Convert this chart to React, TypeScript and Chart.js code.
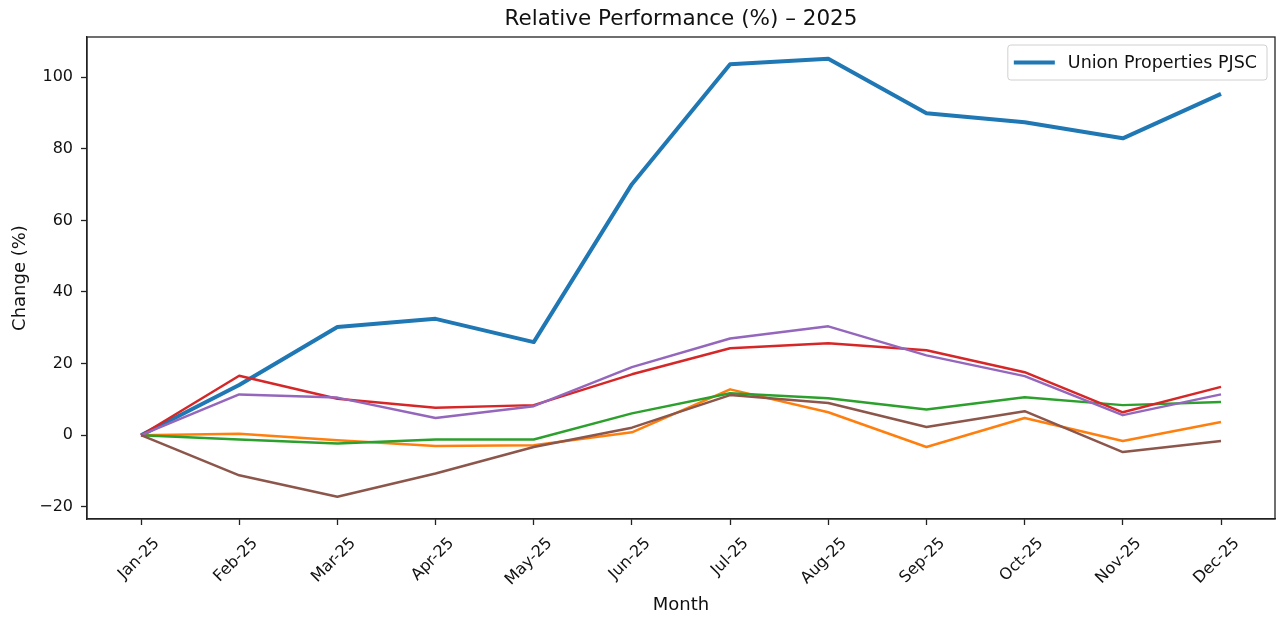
import React, { useEffect, useRef } from "react";
import { Chart, registerables } from "chart.js";

Chart.register(...registerables);

const months = ["Jan-25", "Feb-25", "Mar-25", "Apr-25", "May-25", "Jun-25", "Jul-25", "Aug-25", "Sep-25", "Oct-25", "Nov-25", "Dec-25"];
const unionProperties = [0, 14, 30.2, 32.5, 26, 70.1, 103.6, 105.1, 89.9, 87.4, 82.9, 95.3];
const seriesOrange = [0, 0.4, -1.4, -3, -2.8, 0.8, 12.8, 6.4, -3.3, 4.8, -1.6, 3.7];
const seriesGreen = [0, -1.2, -2.3, -1.2, -1.2, 6.1, 11.7, 10.3, 7.2, 10.6, 8.4, 9.3];
const seriesRed = [0, 16.6, 10.2, 7.7, 8.4, 17, 24.3, 25.7, 23.7, 17.6, 6.4, 13.5];
const seriesPurple = [0, 11.4, 10.5, 4.8, 8.1, 19, 27, 30.4, 22.3, 16.5, 5.6, 11.4];
const seriesBrown = [0, -11.2, -17.2, -10.7, -3.3, 2.1, 11.2, 9, 2.3, 6.7, -4.7, -1.6];
const yTicks = [-20, 0, 20, 40, 60, 80, 100];
const titleText = "Relative Performance (%) \u2013 2025";
const legendLabel = "Union Properties PJSC";

const FONT = "'DejaVu Sans', sans-serif";

export default function App() {
  const ref = useRef<HTMLCanvasElement | null>(null);

  useEffect(() => {
    if (!ref.current) return;
    const mk = (label: string, data: number[], color: string, width: number, order: number) => ({
      label,
      data: data.map((v, i) => ({ x: i, y: v })),
      borderColor: color,
      backgroundColor: color,
      borderWidth: width,
      pointRadius: 0,
      pointHoverRadius: 0,
      tension: 0,
      fill: false,
      borderJoinStyle: "round" as const,
      order,
    });

    const decor = {
      id: "decor",
      afterDraw(chart: any) {
        const { ctx, chartArea } = chart;
        const { left, right, top, bottom } = chartArea;
        ctx.save();
        // frame
        ctx.strokeStyle = "#222";
        ctx.lineWidth = 1.3;
        ctx.strokeRect(left, top, right - left, bottom - top);
        // title
        ctx.fillStyle = "#111";
        ctx.font = `21.5px ${FONT}`;
        ctx.textAlign = "center";
        ctx.textBaseline = "middle";
        ctx.fillText(titleText, (left + right) / 2, 19);
        // legend
        ctx.font = `17.5px ${FONT}`;
        const tw = ctx.measureText(legendLabel).width;
        const bw = 6 + 41 + 13 + tw + 10;
        const bh = 35;
        const bx = right - 8 - bw;
        const by = top + 8;
        ctx.beginPath();
        (ctx as any).roundRect(bx, by, bw, bh, 3);
        ctx.fillStyle = "rgba(255,255,255,0.85)";
        ctx.fill();
        ctx.strokeStyle = "#d0d0d0";
        ctx.lineWidth = 1;
        ctx.stroke();
        ctx.beginPath();
        ctx.strokeStyle = "#1f77b4";
        ctx.lineWidth = 4;
        ctx.moveTo(bx + 6, by + bh / 2);
        ctx.lineTo(bx + 47, by + bh / 2);
        ctx.stroke();
        ctx.fillStyle = "#111";
        ctx.textAlign = "left";
        ctx.textBaseline = "middle";
        ctx.fillText(legendLabel, bx + 60, by + bh / 2 + 1);
        ctx.restore();
      },
    };

    const chart = new Chart(ref.current, {
      type: "line",
      data: {
        datasets: [
          mk(legendLabel, unionProperties, "#1f77b4", 4, 6),
          mk("Peer A", seriesOrange, "#ff7f0e", 2.5, 5),
          mk("Peer B", seriesGreen, "#2ca02c", 2.5, 4),
          mk("Peer C", seriesRed, "#d62728", 2.5, 3),
          mk("Peer D", seriesPurple, "#9467bd", 2.5, 2),
          mk("Peer E", seriesBrown, "#8c564b", 2.5, 1),
        ],
      },
      options: {
        animation: false,
        responsive: true,
        maintainAspectRatio: false,
        events: [],
        layout: { padding: { top: 37, right: 2, left: 0, bottom: 0 } },
        plugins: {
          legend: { display: false },
          title: { display: false },
          tooltip: { enabled: false },
        },
        scales: {
          x: {
            type: "linear",
            min: -0.55,
            max: months.length - 1 + 0.55,
            afterBuildTicks: (scale: any) => {
              scale.ticks = months.map((_, i) => ({ value: i }));
            },
            afterFit: (scale: any) => {
              scale.height = 100;
            },
            grid: { drawOnChartArea: false, drawTicks: true, tickLength: 6, tickColor: "#222", tickWidth: 1.3 },
            border: { display: true, color: "#222", width: 1.3 },
            ticks: {
              autoSkip: false,
              minRotation: 45,
              maxRotation: 45,
              padding: 9,
              labelOffset: 16,
              color: "#111",
              font: { family: FONT, size: 16 },
              callback: (v: any) => months[Math.round(Number(v))] ?? "",
            },
            title: {
              display: true,
              text: "Month",
              color: "#111",
              font: { family: FONT, size: 18 },
              padding: { top: 0, bottom: 3 },
            },
          },
          y: {
            type: "linear",
            min: -23.4,
            max: 111.2,
            afterBuildTicks: (scale: any) => {
              scale.ticks = yTicks.map((v) => ({ value: v }));
            },
            afterFit: (scale: any) => {
              scale.width = 87;
            },
            grid: { drawOnChartArea: false, drawTicks: true, tickLength: 6, tickColor: "#222", tickWidth: 1.3 },
            border: { display: true, color: "#222", width: 1.3 },
            ticks: {
              padding: 8,
              color: "#111",
              font: { family: FONT, size: 16 },
              callback: (v: any) => (Number(v) < 0 ? "\u2212" + Math.abs(Number(v)) : String(v)),
            },
            title: {
              display: true,
              text: "Change (%)",
              color: "#111",
              font: { family: FONT, size: 18 },
              padding: { top: 10, bottom: 0 },
            },
          },
        },
      },
      plugins: [decor],
    } as any);
    return () => chart.destroy();
  }, []);

  return (
    <div style={{ position: "absolute", left: 0, top: 0, width: 1277, height: 619, background: "#fff" }}>
      <canvas ref={ref} />
    </div>
  );
}
